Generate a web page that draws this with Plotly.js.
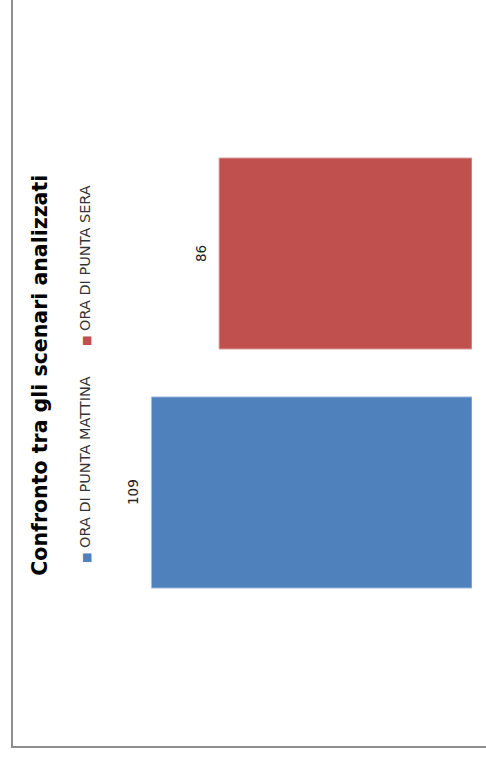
<!DOCTYPE html>
<html>
<head>
<meta charset="utf-8">
<script src="https://cdn.plot.ly/plotly-3.0.1.min.js"></script>
<style>
  html, body { margin: 0; padding: 0; width: 486px; height: 758px; overflow: hidden; background: #ffffff; }
  #wrap {
    position: absolute; left: -136px; top: 136px; width: 758px; height: 486px;
    transform: rotate(-90deg); transform-origin: 379px 243px;
  }
  #chart { position: absolute; left: 0; top: 0; width: 758px; height: 486px; }
  #frame {
    position: absolute; left: 10px; top: 11px; width: 800px; height: 520px;
    border-left: 2px solid #8e8e8e; border-top: 2px solid #8e8e8e; pointer-events: none;
  }
</style>
</head>
<body>
<div id="wrap">
  <div id="chart"></div>
  <div id="frame"></div>
</div>
<script>
const titleText = "Confronto tra gli scenari analizzati";
const seriesNames = ["ORA DI PUNTA MATTINA", "ORA DI PUNTA SERA"];
const seriesValues = [109, 86];
const seriesColors = ["#4F81BD", "#C0504D"];
const seriesEdges = ["#a9c1e2", "#e3aeae"];
const legendX = [0.099, 0.553];

const fontFam = "'DejaVu Sans', 'Open Sans', sans-serif";

const traces = seriesNames.map((name, i) => ({
  type: "bar",
  name: name,
  x: [name],
  y: [seriesValues[i]],
  marker: { color: seriesColors[i], line: { color: seriesEdges[i], width: 1 } },
  hoverinfo: "none",
  showlegend: false
}));

const labelAnnotations = seriesNames.map((name, i) => ({
  xref: "x", yref: "y",
  x: name, y: seriesValues[i],
  xanchor: "center", yanchor: "bottom", yshift: 8,
  showarrow: false,
  text: String(seriesValues[i]),
  font: { family: fontFam, size: 13.5, color: "#222222" }
}));

const legendAnnotations = seriesNames.map((name, i) => ({
  xref: "paper", yref: "paper",
  x: legendX[i], xanchor: "left",
  y: 1.096, yanchor: "middle",
  showarrow: false,
  text: '<span style="color:' + seriesColors[i] + ';font-size:11px">■</span> ' + name,
  font: { family: fontFam, size: 14.5, color: "#333333" }
}));

const layout = {
  width: 758,
  height: 486,
  margin: { l: 146, r: 134, t: 119, b: 14 },
  paper_bgcolor: "rgba(0,0,0,0)",
  plot_bgcolor: "rgba(0,0,0,0)",
  bargap: 0.2,
  showlegend: false,
  title: {
    text: "<b>" + titleText + "</b>",
    x: 0.505, xanchor: "center",
    y: 0.918, yanchor: "middle",
    font: { family: fontFam, size: 20.5, color: "#000000" }
  },
  annotations: legendAnnotations.concat(labelAnnotations),
  xaxis: {
    type: "category",
    showticklabels: false, ticks: "", showgrid: false, zeroline: false, showline: false
  },
  yaxis: {
    range: [0, 120],
    showticklabels: false, ticks: "", showgrid: false, zeroline: false, showline: false
  }
};

Plotly.newPlot("chart", traces, layout, { displayModeBar: false, staticPlot: true });
</script>
</body>
</html>
